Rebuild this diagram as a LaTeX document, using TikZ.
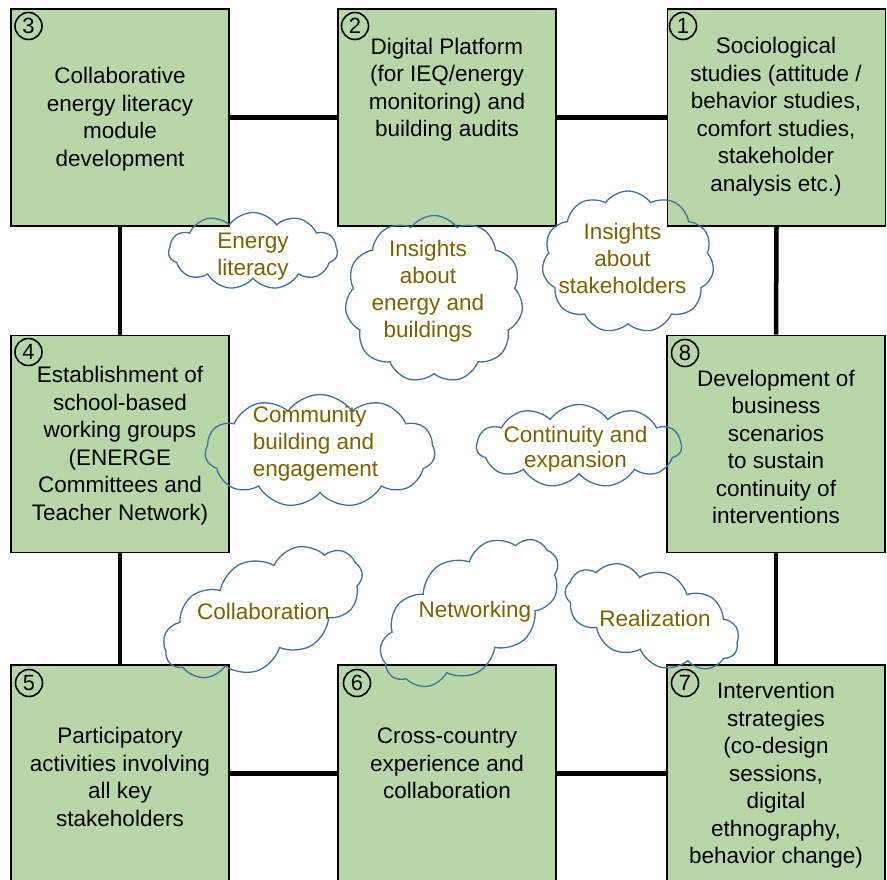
\documentclass[tikz,border=0pt]{standalone}
\usepackage{fontspec}
\setmainfont{Liberation Sans}
\usetikzlibrary{shapes.symbols}
\definecolor{boxgreen}{RGB}{183,215,168}
\definecolor{cloudblue}{RGB}{65,113,156}
\definecolor{cloudtext}{RGB}{127,96,0}
\begin{document}
\begin{tikzpicture}[x=1pt,y=-1pt,
  stagebox/.style={draw=black, line width=1.6pt, fill=boxgreen, minimum width=218pt, minimum height=217pt, inner sep=0pt},
  conn/.style={line width=4.5pt, black},
  boxtext/.style={align=center, inner sep=0pt, font=\fontsize{22.5}{27.5}\selectfont},
  numlabel/.style={circle, draw=black, line width=1.6pt, minimum size=27pt, inner sep=0pt, font=\fontsize{22}{22}\selectfont},
  thought/.style={cloud, cloud puffs=11, cloud puff arc=110, cloud ignores aspect, draw=cloudblue, line width=1.3pt, inner sep=0pt},
  cloudlabel/.style={align=center, inner sep=0pt, text=cloudtext, font=\fontsize{22.5}{27}\selectfont}]
\useasboundingbox (0,0) rectangle (887,879);
% boxes
\node[stagebox] (b3) at (120,117.5) {};
\node[stagebox] (b2) at (447,117.5) {};
\node[stagebox] (b1) at (776.5,117.5) {};
\node[stagebox] (b4) at (120,444) {};
\node[stagebox] (b8) at (776,444) {};
\node[stagebox] (b5) at (120,773.5) {};
\node[stagebox] (b6) at (447,773.5) {};
\node[stagebox] (b7) at (776,773.5) {};
% connectors
\draw[conn] (b3.east) -- (b2.west);
\draw[conn] (b2.east) -- (b1.west);
\draw[conn] (b3.south) -- (b4.north);
\draw[conn] (b4.south) -- (b5.north);
\draw[conn] (b1.south) -- (b8.north);
\draw[conn] (b8.south) -- (b7.north);
\draw[conn] (b5.east) -- (b6.west);
\draw[conn] (b6.east) -- (b7.west);
% numbers
\node[numlabel] (n3) at (28.5,26) {3};
\node[numlabel] (n2) at (355,26) {2};
\node[numlabel] (n1) at (683,26) {1};
\node[numlabel] (n4) at (28.5,352) {4};
\node[numlabel] (n8) at (685,353) {8};
\node[numlabel] (n5) at (29,683) {5};
\node[numlabel] (n6) at (357,683) {6};
\node[numlabel] (n7) at (685,683) {7};
% box texts
\node[boxtext] (t3) at (120,119) {Collaborative\\energy literacy\\module\\development};
\node[boxtext] (t2) at (447,89.5) {Digital Platform\\(for IEQ/energy\\monitoring) and\\building audits};
\node[boxtext] (t1) at (776,116.5) {Sociological\\studies (attitude /\\behavior studies,\\comfort studies,\\stakeholder\\analysis etc.)};
\node[boxtext] (t4) at (120,445.5) {Establishment of\\school-based\\working groups\\(ENERGE\\Committees and\\Teacher Network)};
\node[boxtext] (t8) at (776,447) {Development of\\business\\scenarios\\to sustain\\continuity of\\interventions};
\node[boxtext] (t5) at (120,777) {Participatory\\activities involving\\all key\\stakeholders};
\node[boxtext] (t6) at (447,763.5) {Cross-country\\experience and\\collaboration};
\node[boxtext] (t7) at (776,775.5) {Intervention\\strategies\\(co-design\\sessions,\\digital\\ethnography,\\behavior change)};
% clouds
\node[thought, minimum width=169pt, minimum height=77pt] (c1) at (253,251) {};
\node[thought, minimum width=178pt, minimum height=167pt] (c2) at (434,299) {};
\node[thought, minimum width=172pt, minimum height=142pt] (c3) at (628,262) {};
\node[thought, minimum width=230pt, minimum height=113pt] (c4) at (320,451) {};
\node[thought, minimum width=205pt, minimum height=83pt] (c5) at (579,446) {};
\node[thought, minimum width=214pt, minimum height=106pt, rotate=25] (c6) at (263,612) {};
\node[thought, minimum width=204pt, minimum height=112pt, rotate=35] (c7) at (470,612) {};
\node[thought, minimum width=182pt, minimum height=92pt, rotate=-20] (c8) at (652,617) {};
% cloud texts
\node[cloudlabel] (l1) at (253,256.5) {Energy\\literacy};
\node[cloudlabel] (l2) at (428,291) {Insights\\about\\energy and\\buildings};
\node[cloudlabel] (l3) at (622.5,258) {Insights\\about\\stakeholders};
\node[cloudlabel, align=left] (l4) at (315.5,444) {Community\\building and\\engagement};
\node[cloudlabel, font=\fontsize{22.5}{25}\selectfont] (l5) at (575.5,449) {Continuity and\\expansion};
\node[cloudlabel] (l6) at (263.5,611) {Collaboration};
\node[cloudlabel] (l7) at (475,612) {Networking};
\node[cloudlabel] (l8) at (655,618) {Realization};
\end{tikzpicture}
\end{document}
